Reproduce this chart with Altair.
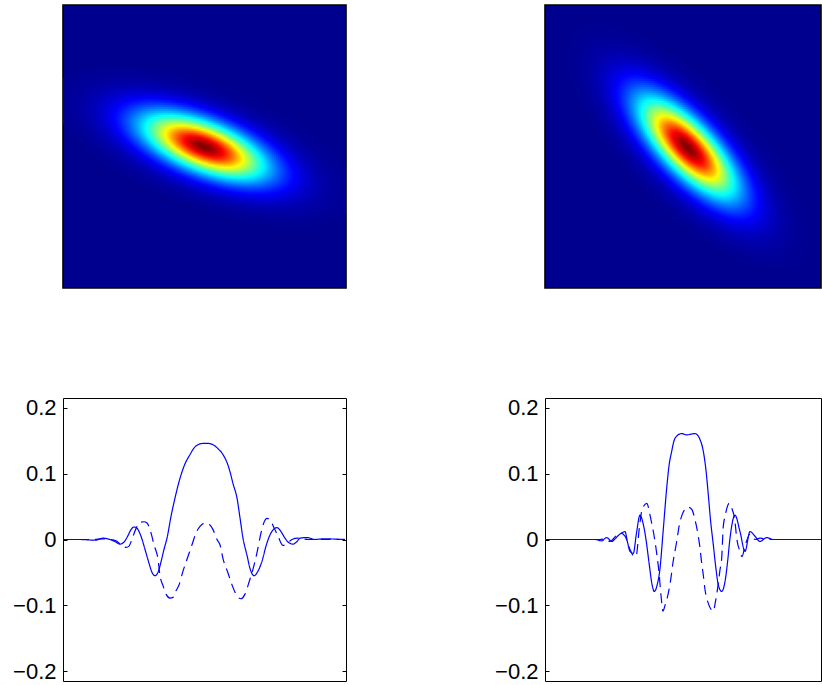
import altair as alt
import numpy as np
import pandas as pd

# ---------------- data ----------------
PANEL = 283
RIGHT_W = 276          # visible part of the right column (cut by the figure edge)
Y_TICKS = [-0.2, -0.1, 0, 0.1, 0.2]

# top heat maps: elliptical bumps (centre, tilt, spread, tail shape)
HEAT_CX = [141.0, 142.5]
HEAT_CY = [141.5, 140.5]
HEAT_ANGLE = [-21.0, -46.0]        # degrees, y up
HEAT_SIGMA_MAJOR = [42.0, 42.0]
HEAT_SIGMA_MINOR = [16.0, 16.0]
HEAT_SHAPE = [1.8, 1.8]            # exponent of the radial profile

# bottom-left curves
BL_SOLID_X = [0, 17, 32, 40, 47, 53, 57, 61, 65, 68, 71, 74, 78, 82, 86, 89, 92, 95, 98, 101,
              104, 108, 112, 117, 122, 127, 131, 135, 140, 145, 150, 155, 160, 164, 167, 170,
              174, 177, 180, 184, 187, 191, 195, 199, 203, 207, 211, 214, 218, 222, 226, 230,
              234, 237, 244, 252, 260, 282]
BL_SOLID_Y = [0.0, 0.0, -0.001, 0.002, 0.0, -0.004, -0.007, -0.004, 0.006, 0.015, 0.019, 0.017,
              0.005, -0.015, -0.036, -0.050, -0.055, -0.050, -0.034, -0.015,
              0.002, 0.035, 0.063, 0.093, 0.115, 0.129, 0.139, 0.144, 0.146, 0.146, 0.144, 0.138,
              0.129, 0.117, 0.103, 0.085, 0.063, 0.033, 0.002, -0.024, -0.044, -0.055, -0.048,
              -0.033, -0.010, 0.007, 0.016, 0.018, 0.012, 0.002, -0.005, -0.007,
              -0.003, 0.002, 0.003, 0.0, 0.001, 0.0]
BL_DASH_X = [0, 30, 40, 47, 53, 58, 63, 66, 70, 74, 77, 81, 84, 88, 91, 95, 97, 100, 103, 107,
             110, 113, 116, 120, 124, 129, 133, 137, 142, 147, 150, 154, 157, 160, 165, 169, 172,
             175, 178, 182, 186, 190, 194, 198, 201, 204, 207, 211, 215, 220, 224, 229, 235,
             245, 282]
BL_DASH_Y = [0.0, 0.0, 0.001, 0.0, -0.002, -0.008, -0.012, -0.010, 0.005, 0.020, 0.026, 0.027,
             0.025, 0.010, -0.008, -0.030, -0.055, -0.070, -0.083, -0.089,
             -0.088, -0.078, -0.069, -0.048, -0.030, -0.008, 0.010, 0.020, 0.025, 0.022, 0.015,
             0.000, -0.008, -0.029, -0.051, -0.069, -0.080,
             -0.088, -0.090, -0.083, -0.065, -0.045, -0.020, 0.010, 0.026, 0.032, 0.030, 0.018,
             0.005, -0.009, -0.006, 0.000, 0.002, 0.0, 0.0]

# bottom-right curves
BR_SOLID_X = [0, 50, 56.7, 61.7, 66.7, 70, 73.3, 76.7, 80, 82.5, 85, 88.3, 91.5, 95, 98, 101,
              104, 107, 109.3, 112, 115, 118, 121.7, 124, 126.7, 129, 131.7, 136.7, 141.7, 146,
              150, 155, 158.3, 161, 163.3, 165.5, 168.3, 171, 173.3, 176.7, 180, 182.5, 185,
              190, 195, 200, 205, 210, 215, 221.7, 228.3, 276]
BR_SOLID_Y = [0.0, 0.0, -0.002, 0.003, -0.003, 0.001, 0.006, 0.010, 0.012, -0.004, -0.018, -0.021,
              0.010, 0.037, 0.025, 0.000, -0.035, -0.068, -0.079, -0.070, -0.044, 0.010,
              0.078, 0.112, 0.134, 0.150, 0.157, 0.161, 0.159, 0.160, 0.161, 0.152, 0.134, 0.105,
              0.068, 0.030, -0.008, -0.045, -0.069, -0.079, -0.064, -0.035, 0.002,
              0.037, 0.012, -0.018, 0.012, 0.005, -0.003, 0.003, 0.0, 0.0]
BR_DASH_X = [0, 55, 60, 65, 70, 75, 80, 85, 88, 91, 94.3, 97, 101.7, 105.7, 110, 112.3, 114,
             116, 118, 120, 122, 125.7, 127.7, 131.7, 134.3, 137, 140, 143, 146.7, 150, 153.3,
             155, 156.7, 158.3, 160, 163.3, 166, 168.3, 170.5, 173, 175, 176.7, 178.3, 180,
             184.3, 186.7, 190, 191.7, 195, 197, 200, 205, 210, 215, 225, 276]
BR_DASH_Y = [0.0, 0.0, 0.001, -0.003, 0.004, 0.010, 0.005, -0.015, -0.024, -0.026, 0.017, 0.045,
             0.055, 0.032, -0.003, -0.028, -0.050, -0.085, -0.109, -0.100, -0.090, -0.061,
             -0.038, -0.003, 0.022, 0.037, 0.046, 0.049, 0.046, 0.030, 0.005,
             -0.013, -0.036, -0.054, -0.076, -0.097, -0.106, -0.109, -0.094, -0.070, -0.046,
             -0.028, 0.020, 0.035, 0.055, 0.048, 0.027, 0.002, -0.018, -0.026, -0.010, 0.008,
             0.0, 0.002, 0.0, 0.0]

# ---------------- styling ----------------
FONT = "Liberation Sans"
JET_DOMAIN = [0, 0.111, 0.365, 0.619, 0.873, 1.0]
JET_RANGE = ["#00008F", "#0000FF", "#00FFFF", "#FFFF00", "#FF0000", "#800000"]
jet = alt.Scale(domain=JET_DOMAIN, range=JET_RANGE, interpolate="rgb", clamp=True)


def heat_frame(k, xmax):
    n = 142
    step = PANEL / n
    c = (np.arange(n) + 0.5) * step
    X, Y = np.meshgrid(c, c)
    t = np.deg2rad(HEAT_ANGLE[k])
    dx, dy = X - HEAT_CX[k], Y - HEAT_CY[k]
    u = dx * np.cos(t) + dy * np.sin(t)
    v = -dx * np.sin(t) + dy * np.cos(t)
    r = np.sqrt(u ** 2 / HEAT_SIGMA_MAJOR[k] ** 2 + v ** 2 / HEAT_SIGMA_MINOR[k] ** 2)
    val = np.exp(-0.5 * r ** HEAT_SHAPE[k])
    m = (val > 0.004) & (X - step / 2 < xmax)
    df = pd.DataFrame({"x": np.round(X[m] - step / 2, 3),
                       "y": np.round(Y[m] - step / 2, 3),
                       "v": np.round(val[m], 4)})
    return df, step


def heat_chart(k, w):
    df, step = heat_frame(k, w)
    over = step + 0.7   # cells overlap slightly so no seams show
    return (
        alt.Chart(df)
        .transform_calculate(x2=f"datum.x + {over}", y2=f"datum.y + {over}")
        .mark_rect(clip=True, strokeWidth=0)
        .encode(
            x=alt.X("x:Q", scale=alt.Scale(domain=[0, w], nice=False, zero=False), axis=None),
            x2="x2:Q",
            y=alt.Y("y:Q", scale=alt.Scale(domain=[0, PANEL], nice=False, zero=False), axis=None),
            y2="y2:Q",
            color=alt.Color("v:Q", scale=jet, legend=None),
        )
        .properties(width=w, height=PANEL,
                    view=alt.ViewBackground(fill="#00008F", stroke="black", strokeWidth=1.6))
    )


def line_chart(xs, ys, xd, yd, w, right_ticks):
    df = pd.concat([
        pd.DataFrame({"x": xs, "y": ys, "s": "solid"}),
        pd.DataFrame({"x": xd, "y": yd, "s": "dashed"}),
    ], ignore_index=True)
    xsc = alt.Scale(domain=[0, w], nice=False, zero=False)
    ysc = alt.Scale(domain=[-0.215, 0.215], nice=False, zero=False)
    base = alt.Chart(df).encode(x=alt.X("x:Q", scale=xsc, axis=None))
    lines = base.mark_line(color="#0000FF", strokeWidth=1.2, interpolate="monotone", clip=True).encode(
        y=alt.Y("y:Q", scale=ysc,
                axis=alt.Axis(orient="left", values=Y_TICKS, format="~g", offset=-4, tickSize=4,
                              tickColor="black", tickWidth=1, domain=False, grid=False,
                              labelFont=FONT, labelFontSize=22, labelColor="black",
                              labelPadding=7, title=None)),
        strokeDash=alt.StrokeDash("s:N", scale=alt.Scale(domain=["solid", "dashed"],
                                                         range=[[1, 0], [10, 6]]), legend=None),
    )
    layers = [lines]
    if right_ticks:
        ghost = base.mark_line(opacity=0).encode(
            y=alt.Y("y:Q", scale=ysc,
                    axis=alt.Axis(orient="right", values=Y_TICKS, labels=False, offset=-4, tickSize=4,
                                  tickColor="black", tickWidth=1, domain=False, grid=False, title=None)),
            detail="s:N",
        )
        layers.append(ghost)
    ch = alt.layer(*layers)
    if right_ticks:
        ch = ch.resolve_axis(y="independent")
    return ch.properties(width=w, height=PANEL,
                         view=alt.ViewBackground(fill="white", stroke="black", strokeWidth=1))


tl = heat_chart(0, PANEL)
tr = heat_chart(1, RIGHT_W)
bl = line_chart(BL_SOLID_X, BL_SOLID_Y, BL_DASH_X, BL_DASH_Y, PANEL, True)
br = line_chart(BR_SOLID_X, BR_SOLID_Y, BR_DASH_X, BR_DASH_Y, RIGHT_W, False)

chart = (
    alt.concat(tl, tr, bl, br, columns=2, spacing={"row": 110, "column": 199}, bounds="flush")
    .properties(padding={"left": 12, "top": 4, "right": 0, "bottom": 5}, background="white")
    .configure_axis(labelFont=FONT)
)

chart.save("out.html", embed_options={"renderer": "svg", "actions": False})
